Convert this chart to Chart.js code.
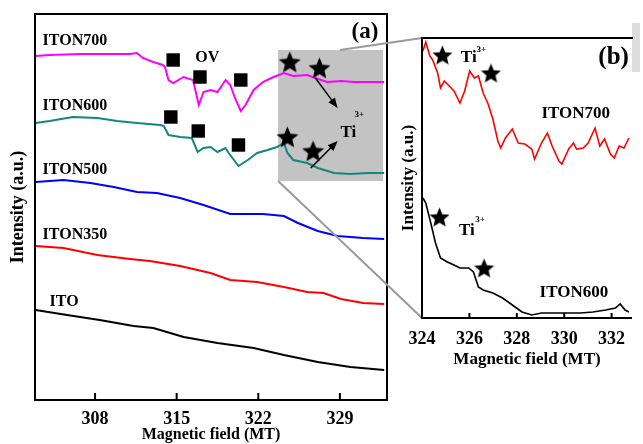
<!DOCTYPE html>
<html>
<head>
<meta charset="utf-8">
<script src="https://cdn.jsdelivr.net/npm/chart.js@4.4.1/dist/chart.umd.min.js"></script>
<style>
  html, body { margin: 0; padding: 0; background: #fff; }
  #wrap { position: relative; width: 643px; height: 444px; overflow: hidden; }
  #wrap canvas { position: absolute; left: 0; top: 0; }
</style>
</head>
<body>
<div id="wrap">
  <canvas id="chartA" width="643" height="444"></canvas>
  <canvas id="chartB" width="643" height="444"></canvas>
</div>
<script>
// PANEL (a) DATA - magnetic field (mT) / intensity (a.u.)
const fieldA700 = [302.9, 304.1, 306.7, 308.2, 309.6, 311.0, 311.6, 312.1, 313.0, 313.8, 314.0, 314.3, 314.7, 315.6, 316.4, 316.9, 317.3, 317.9, 318.5, 319.2, 319.6, 320.0, 320.5, 320.9, 321.6, 322.4, 323.3, 324.2, 325.0, 326.2, 326.9, 327.9, 329.1, 330.2, 331.4, 332.8];
const iton700A  = [34.4, 34.5, 34.6, 34.6, 34.6, 34.6, 34.7, 34.2, 33.8, 33.5, 33.3, 32.0, 31.7, 32.3, 32.0, 29.5, 30.8, 31.0, 30.8, 32.0, 31.5, 30.2, 28.9, 29.5, 31.0, 31.8, 32.3, 32.7, 32.4, 32.5, 32.2, 31.8, 31.9, 31.8, 31.8, 31.8];

const fieldA600 = [302.9, 304.1, 306.1, 308.2, 309.9, 311.6, 313.6, 313.9, 314.3, 315.3, 316.3, 316.8, 317.3, 317.9, 318.5, 319.2, 319.4, 320.3, 321.1, 321.9, 322.8, 323.6, 324.2, 324.5, 325.0, 326.2, 327.1, 328.5, 329.9, 331.4, 332.8];
const iton600A  = [27.7, 27.9, 28.3, 28.2, 27.9, 27.7, 27.5, 27.4, 26.5, 26.3, 26.2, 24.8, 25.2, 25.3, 24.8, 25.2, 24.8, 23.4, 24.0, 24.7, 25.0, 25.3, 25.7, 24.7, 24.0, 23.7, 23.2, 22.7, 22.6, 22.7, 22.7];

const fieldA500 = [302.9, 305.3, 307.6, 309.6, 311.6, 313.3, 315.3, 317.3, 319.6, 320.7, 322.4, 324.2, 325.4, 327.1, 328.8, 331.0, 332.8];
const iton500A  = [21.8, 22.0, 21.7, 21.3, 20.8, 20.7, 20.2, 19.5, 18.6, 18.6, 18.6, 18.4, 17.7, 16.9, 16.4, 16.2, 16.1];

const fieldA350 = [302.9, 305.3, 308.2, 311.0, 312.7, 315.3, 317.9, 319.6, 321.9, 324.2, 326.2, 327.6, 329.1, 331.0, 332.8];
const iton350A  = [15.4, 15.2, 14.5, 14.1, 13.9, 13.4, 12.7, 12.0, 11.8, 11.3, 10.8, 10.7, 10.1, 9.7, 9.6];

const fieldAito = [302.9, 305.6, 308.4, 311.3, 313.0, 315.6, 318.5, 321.6, 324.2, 327.1, 329.9, 332.8];
const itoA      = [9.0, 8.5, 8.0, 7.4, 7.2, 6.3, 5.7, 5.2, 4.5, 3.8, 3.3, 3.0];

// OV markers (squares) and Ti3+ markers (stars)
const ovField = [314.7, 317.0, 320.5, 314.5, 316.85, 320.3];
const ovInt   = [34.0, 32.3, 32.0, 28.3, 26.9, 25.5];
const tiFieldA = [324.7, 327.25, 324.5, 326.7];
const tiIntA   = [33.8, 33.2, 26.3, 24.9];

const ticksA = [308, 315, 322, 329];

// PANEL (b) DATA - zoom of 324-333 mT
const fieldB700 = [324.04, 324.16, 324.33, 324.45, 324.66, 324.78, 324.94, 325.15, 325.35, 325.60, 325.80, 326.01, 326.21, 326.38, 326.58, 326.79, 326.99, 327.20, 327.32, 327.52, 327.81, 328.06, 328.34, 328.63, 328.75, 329.04, 329.29, 329.49, 329.78, 329.90, 330.19, 330.39, 330.52, 330.80, 331.01, 331.30, 331.50, 331.70, 331.95, 332.11, 332.32, 332.52, 332.73];
const iton700B  = [26.7, 27.6, 26.2, 25.8, 24.5, 23.0, 23.7, 23.2, 22.7, 21.5, 22.7, 24.7, 24.0, 24.2, 22.5, 21.4, 19.9, 17.7, 17.0, 18.0, 18.9, 17.5, 17.4, 16.9, 15.9, 17.5, 18.5, 17.2, 15.7, 15.4, 16.9, 17.5, 16.9, 17.0, 17.5, 19.0, 17.2, 17.9, 16.4, 16.0, 17.2, 17.0, 18.0];

const fieldB600 = [324.04, 324.16, 324.37, 324.57, 324.78, 325.07, 325.35, 325.60, 325.97, 326.17, 326.38, 326.58, 326.99, 327.40, 327.81, 328.22, 328.63, 329.04, 329.57, 330.11, 330.68, 331.21, 331.75, 332.16, 332.36, 332.57, 332.73];
const iton600B  = [12.0, 11.5, 9.5, 7.5, 6.0, 5.6, 5.3, 5.0, 5.0, 4.6, 3.1, 2.8, 2.5, 2.0, 1.3, 0.6, 0.3, 0.5, 0.5, 0.5, 0.5, 0.6, 0.8, 1.0, 1.4, 0.8, 0.6];

const tiFieldB = [324.86, 326.91, 324.74, 326.62];
const tiIntB   = [26.3, 24.5, 10.1, 5.0];

const ticksB = [324, 326, 328, 330, 332];

// zoomed region shown grey in (a)
const zoomField = [323.7, 332.7];
const zoomInt   = [21.9, 35.0];

const serif = "'Liberation Serif', 'Times New Roman', serif";
Chart.defaults.font.family = serif;
Chart.defaults.font.weight = "bold";
Chart.defaults.color = "#000";

const pts = (xs, ys) => xs.map((x, i) => ({ x, y: ys[i] }));

// filled five point star used as point style
function makeStar(size) {
  const c = document.createElement("canvas");
  c.width = c.height = size;
  const g = c.getContext("2d");
  const R = size / 2, r = R * 0.45;
  g.beginPath();
  for (let i = 0; i < 10; i++) {
    const a = -Math.PI / 2 + i * Math.PI / 5;
    const rad = i % 2 ? r : R;
    g.lineTo(R + rad * Math.cos(a), R + 1 + rad * Math.sin(a));
  }
  g.closePath();
  g.fillStyle = "#000";
  g.fill();
  return c;
}
const starA = makeStar(23);
const starB = makeStar(21);

function line(data, color, width) {
  return {
    type: "line", data, borderColor: color, borderWidth: width,
    pointRadius: 0, tension: 0, order: 1
  };
}

function text(ctx, s, x, y, size, align) {
  ctx.font = `bold ${size}px ${serif}`;
  ctx.textAlign = align || "left";
  ctx.textBaseline = "alphabetic";
  ctx.fillStyle = "#000";
  ctx.fillText(s, x, y);
}

function arrow(ctx, x1, y1, x2, y2) {
  const a = Math.atan2(y2 - y1, x2 - x1);
  ctx.strokeStyle = "#000";
  ctx.fillStyle = "#000";
  ctx.lineWidth = 1.5;
  ctx.beginPath();
  ctx.moveTo(x1, y1);
  ctx.lineTo(x2 - 6 * Math.cos(a), y2 - 6 * Math.sin(a));
  ctx.stroke();
  ctx.beginPath();
  ctx.moveTo(x2, y2);
  ctx.lineTo(x2 - 10 * Math.cos(a) + 4 * Math.sin(a), y2 - 10 * Math.sin(a) - 4 * Math.cos(a));
  ctx.lineTo(x2 - 10 * Math.cos(a) - 4 * Math.sin(a), y2 - 10 * Math.sin(a) + 4 * Math.cos(a));
  ctx.closePath();
  ctx.fill();
}

function inwardTicks(chart, values, len) {
  const { ctx, chartArea, scales } = chart;
  ctx.strokeStyle = "#000";
  ctx.lineWidth = 2;
  values.forEach(v => {
    const px = scales.x.getPixelForValue(v);
    ctx.beginPath();
    ctx.moveTo(px, chartArea.bottom);
    ctx.lineTo(px, chartArea.bottom - len);
    ctx.stroke();
  });
}

// PANEL (a) DECORATION
const panelAPlugin = {
  id: "panelA",
  beforeDatasetsDraw(chart) {
    const { ctx, scales: { x, y } } = chart;
    ctx.save();
    ctx.fillStyle = "#c3c3c3";
    const l = x.getPixelForValue(zoomField[0]), r = x.getPixelForValue(zoomField[1]);
    const t = y.getPixelForValue(zoomInt[1]), b = y.getPixelForValue(zoomInt[0]);
    ctx.fillRect(l, t, r - l, b - t);
    ctx.restore();
  },
  afterDatasetsDraw(chart) {
    const { ctx, chartArea: a, scales: { x, y } } = chart;
    ctx.save();
    ctx.strokeStyle = "#000";
    ctx.lineWidth = 2;
    ctx.strokeRect(a.left, a.top, a.right - a.left, a.bottom - a.top);
    inwardTicks(chart, ticksA, 7);

    text(ctx, "ITON700", x.getPixelForValue(303.5), y.getPixelForValue(35.5), 16);
    text(ctx, "ITON600", x.getPixelForValue(303.5), y.getPixelForValue(29.0), 16);
    text(ctx, "ITON500", x.getPixelForValue(303.5), y.getPixelForValue(22.6), 16);
    text(ctx, "ITON350", x.getPixelForValue(303.5), y.getPixelForValue(16.1), 16);
    text(ctx, "ITO", x.getPixelForValue(304.1), y.getPixelForValue(9.4), 16);
    text(ctx, "OV", x.getPixelForValue(316.6), y.getPixelForValue(33.8), 16);
    text(ctx, "(a)", x.getPixelForValue(332.3), y.getPixelForValue(36.2), 23, "right");
    text(ctx, "Ti", x.getPixelForValue(329.05), y.getPixelForValue(26.3), 17);
    text(ctx, "3+", x.getPixelForValue(330.25), y.getPixelForValue(28.3), 9);

    arrow(ctx, x.getPixelForValue(326.9), y.getPixelForValue(32.2), x.getPixelForValue(328.8), y.getPixelForValue(29.2));
    arrow(ctx, x.getPixelForValue(326.5), y.getPixelForValue(23.2), x.getPixelForValue(328.8), y.getPixelForValue(25.9));
    ctx.restore();
  }
};

let chartA = new Chart(document.getElementById("chartA"), {
  data: {
    datasets: [
      { type: "scatter", data: pts(ovField, ovInt), pointStyle: "rect", pointRadius: 9.5, backgroundColor: "#000", borderWidth: 0, order: 0 },
      { type: "scatter", data: pts(tiFieldA, tiIntA), pointStyle: starA, pointRadius: 10, order: 0 },
      line(pts(fieldA700, iton700A), "#ff00ff", 2),
      line(pts(fieldA600, iton600A), "#138682", 2),
      line(pts(fieldA500, iton500A), "#0000ff", 2),
      line(pts(fieldA350, iton350A), "#ff0000", 2),
      line(pts(fieldAito, itoA), "#000000", 2)
    ]
  },
  options: {
    responsive: false,
    animation: false,
    events: [],
    layout: { padding: { left: 0, top: 14, right: 256, bottom: 0 } },
    plugins: { legend: { display: false }, tooltip: { enabled: false } },
    scales: {
      x: {
        type: "linear", min: 302.85, max: 333.04,
        grid: { display: false, drawTicks: false },
        border: { display: false },
        afterBuildTicks: s => { s.ticks = ticksA.map(v => ({ value: v })); },
        afterFit: s => { s.height = 44; },
        ticks: { font: { size: 18 }, padding: 9 },
        title: { display: true, text: "Magnetic field (MT)", font: { size: 16 }, padding: { top: 0, bottom: 0 } }
      },
      y: {
        min: 0, max: 38.6,
        grid: { display: false, drawTicks: false },
        border: { display: false },
        ticks: { display: false },
        afterFit: s => { s.width = 35; },
        title: { display: true, text: "Intensity (a.u.)", font: { size: 18 }, padding: { top: 8, bottom: 0 } }
      }
    }
  },
  plugins: [panelAPlugin]
});

// PANEL (b) DECORATION + connector lines to (a)
const panelBPlugin = {
  id: "panelB",
  afterDatasetsDraw(chart) {
    const { ctx, chartArea: a, scales: { x, y } } = chart;
    ctx.save();

    // connectors from grey box
    const sa = chartA.scales;
    ctx.strokeStyle = "#9a9a9a";
    ctx.lineWidth = 2;
    ctx.beginPath();
    ctx.moveTo(sa.x.getPixelForValue(329.0), sa.y.getPixelForValue(zoomInt[1]));
    ctx.lineTo(a.left, a.top);
    ctx.moveTo(sa.x.getPixelForValue(zoomField[0]), sa.y.getPixelForValue(zoomInt[0]));
    ctx.lineTo(a.left, a.bottom);
    ctx.stroke();

    ctx.fillStyle = "#dcdcdc";
    ctx.fillRect(a.right, a.top - 15, 8, 49);

    ctx.strokeStyle = "#000";
    ctx.lineWidth = 2;
    ctx.beginPath();
    ctx.moveTo(a.right + 1, a.top);
    ctx.lineTo(a.left, a.top);
    ctx.lineTo(a.left, a.bottom);
    ctx.lineTo(a.right, a.bottom);
    ctx.stroke();
    inwardTicks(chart, ticksB, 5);

    text(ctx, "(b)", x.getPixelForValue(332.73), y.getPixelForValue(25.4), 25, "right");
    text(ctx, "Ti", x.getPixelForValue(325.64), y.getPixelForValue(25.6), 17);
    text(ctx, "3+", x.getPixelForValue(326.3), y.getPixelForValue(26.6), 9);
    text(ctx, "Ti", x.getPixelForValue(325.56), y.getPixelForValue(8.3), 17);
    text(ctx, "3+", x.getPixelForValue(326.25), y.getPixelForValue(9.6), 9);
    text(ctx, "ITON700", x.getPixelForValue(329.04), y.getPixelForValue(20.0), 17);
    text(ctx, "ITON600", x.getPixelForValue(328.96), y.getPixelForValue(2.1), 17);
    ctx.restore();
  }
};

let chartB = new Chart(document.getElementById("chartB"), {
  data: {
    datasets: [
      { type: "scatter", data: pts(tiFieldB, tiIntB), pointStyle: starB, pointRadius: 10, order: 0 },
      line(pts(fieldB700, iton700B), "#ff0000", 1.6),
      line(pts(fieldB600, iton600B), "#000000", 1.6)
    ]
  },
  options: {
    responsive: false,
    animation: false,
    events: [],
    layout: { padding: { left: 390, top: 38, right: 6, bottom: 66 } },
    plugins: { legend: { display: false }, tooltip: { enabled: false } },
    scales: {
      x: {
        type: "linear", min: 324, max: 332.86,
        grid: { display: false, drawTicks: false },
        border: { display: false },
        afterBuildTicks: s => { s.ticks = ticksB.map(v => ({ value: v })); },
        afterFit: s => { s.height = 60; },
        ticks: { font: { size: 18 }, padding: 11 },
        title: { display: true, text: "Magnetic field (MT)", font: { size: 17 }, padding: { top: 0, bottom: 8 } }
      },
      y: {
        min: 0, max: 28,
        grid: { display: false, drawTicks: false },
        border: { display: false },
        ticks: { display: false },
        afterFit: s => { s.width = 32; },
        title: { display: true, text: "Intensity (a.u.)", font: { size: 17 }, padding: { top: 8, bottom: 0 } }
      }
    }
  },
  plugins: [panelBPlugin]
});
</script>
</body>
</html>
